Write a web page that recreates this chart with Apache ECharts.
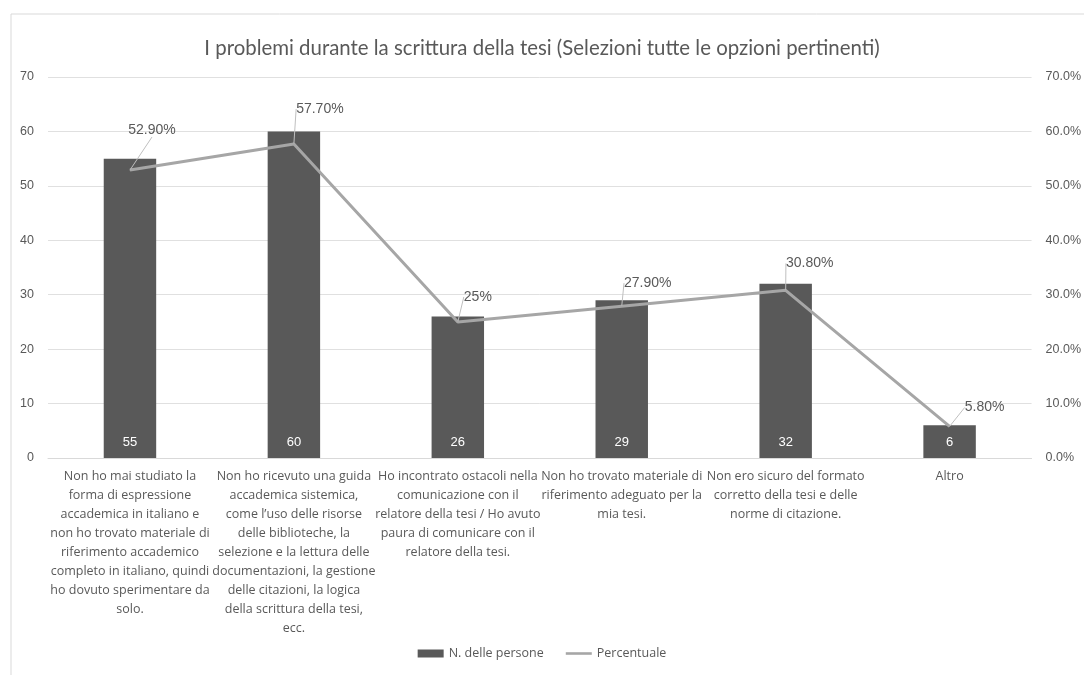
<!DOCTYPE html>
<html>
<head>
<meta charset="utf-8">
<script src="https://cdn.jsdelivr.net/npm/echarts@6/dist/echarts.min.js"></script>
<style>
  html, body { margin: 0; padding: 0; background: #fff; }
  #chart { width: 1084px; height: 675px; }
</style>
</head>
<body>
<div id="chart"></div>
<script>
// categorie (a capo come nel grafico originale)
const categories = [
  'Non ho mai studiato la\nforma di espressione\naccademica in italiano e\nnon ho trovato materiale di\nriferimento accademico\ncompleto in italiano, quindi\nho dovuto sperimentare da\nsolo.',
  'Non ho ricevuto una guida\naccademica sistemica,\ncome l\u2019uso delle risorse\ndelle biblioteche, la\nselezione e la lettura delle\ndocumentazioni, la gestione\ndelle citazioni, la logica\ndella scrittura della tesi,\necc.',
  'Ho incontrato ostacoli nella\ncomunicazione con il\nrelatore della tesi / Ho avuto\npaura di comunicare con il\nrelatore della tesi.',
  'Non ho trovato materiale di\nriferimento adeguato per la\nmia tesi.',
  'Non ero sicuro del formato\ncorretto della tesi e delle\nnorme di citazione.',
  'Altro'
];
const persone = [55, 60, 26, 29, 32, 6];
const percentuale = [52.9, 57.7, 25, 27.9, 30.8, 5.8];
const percentLabels = ['52.90%', '57.70%', '25%', '27.90%', '30.80%', '5.80%'];

// spostamento delle etichette percentuali (come nell'originale)
const labelShift = [[22, -40], [26, -35], [20, -25], [26, -23], [24, -27], [35, -19]];

const font = 'Lato';
const textFont = 'Open Sans';
const grey = '#595959';

const chart = echarts.init(document.getElementById('chart'));
chart.setOption({
  animation: false,
  textStyle: { fontFamily: font },
  graphic: [{
    type: 'rect',
    shape: { x: 11, y: 14, width: 1100, height: 700 },
    style: { fill: 'none', stroke: '#d9d9d9', lineWidth: 1 },
    silent: true
  }],
  title: {
    text: 'I problemi durante la scrittura della tesi (Selezioni tutte le opzioni pertinenti)',
    left: 'center',
    top: 33,
    textStyle: { fontSize: 20.4, fontWeight: 'normal', color: grey, fontFamily: font }
  },
  legend: {
    bottom: 10,
    left: 'center',
    itemGap: 22,
    textStyle: { color: grey, fontSize: 12.5, fontFamily: textFont },
    data: [
      { name: 'N. delle persone', icon: 'rect', itemStyle: { color: grey } },
      { name: 'Percentuale', icon: 'path://M0,0L30,0L30,3L0,3Z', itemStyle: { color: '#a6a6a6' } }
    ],
    itemWidth: 26,
    itemHeight: 8
  },
  grid: { left: 48, right: 51, top: 77, bottom: 217, containLabel: false },
  xAxis: {
    type: 'category',
    data: categories,
    axisTick: { show: false },
    axisLine: { lineStyle: { color: '#d9d9d9' } },
    axisLabel: {
      interval: 0,
      color: grey,
      fontSize: 12.5,
      lineHeight: 19,
      margin: 9,
      fontFamily: textFont
    }
  },
  yAxis: [
    {
      type: 'value',
      min: 0, max: 70, interval: 10,
      axisLabel: { color: grey, fontSize: 12.5, margin: 14, fontFamily: 'Liberation Sans' },
      splitLine: { lineStyle: { color: '#e0e0e0' } }
    },
    {
      type: 'value',
      min: 0, max: 70, interval: 10,
      axisLabel: {
        color: grey, fontSize: 12.5, margin: 14, fontFamily: 'Liberation Sans',
        formatter: v => v.toFixed(1) + '%'
      },
      splitLine: { show: false }
    }
  ],
  series: [
    {
      name: 'N. delle persone',
      type: 'bar',
      data: persone,
      barWidth: '32%',
      itemStyle: { color: grey },
      label: {
        show: true,
        position: 'insideBottom',
        distance: 9,
        color: '#fff',
        fontSize: 13,
        fontFamily: 'Liberation Sans'
      }
    },
    {
      name: 'Percentuale',
      type: 'line',
      yAxisIndex: 1,
      data: percentuale,
      symbol: 'circle',
      symbolSize: 1,
      lineStyle: { color: '#a6a6a6', width: 3 },
      itemStyle: { color: '#a6a6a6' },
      label: {
        show: true,
        position: 'inside',
        color: grey,
        fontSize: 14,
        fontFamily: 'Liberation Sans',
        formatter: p => percentLabels[p.dataIndex]
      },
      labelLine: { show: true, lineStyle: { color: '#bfbfbf', width: 1 } },
      labelLayout: p => ({ dx: labelShift[p.dataIndex][0], dy: labelShift[p.dataIndex][1] })
    }
  ]
});
</script>
</body>
</html>
